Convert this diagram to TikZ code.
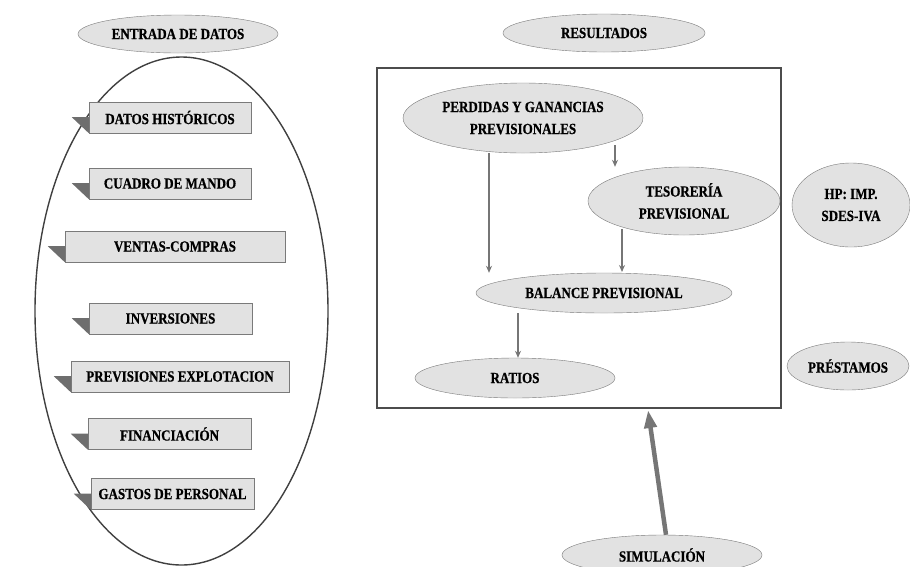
\documentclass[tikz,border=0pt]{standalone}
\usepackage{fontspec}
\setmainfont[FakeStretch=0.84, BoldFeatures={FakeBold=0.6}]{Liberation Serif}
\usetikzlibrary{shapes.geometric,arrows.meta,calc}

\definecolor{fillgray}{HTML}{E2E2E2}
\definecolor{linegray}{HTML}{7A7A7A}
\definecolor{tabgray}{HTML}{6E6E6E}
\definecolor{arrowgray}{HTML}{767676}

\tikzset{
  oval/.style={ellipse, draw=linegray, fill=fillgray, inner sep=0pt, align=center,
    font=\fontsize{15.5}{22}\selectfont\bfseries},
  databox/.style={rectangle, draw=linegray, fill=fillgray, minimum height=31pt, inner sep=0pt,
    font=\fontsize{15.5}{16}\selectfont\bfseries},
  flow/.style={->, arrowgray, line width=1.4pt, >={Stealth[length=7pt,width=6pt]}},
}

\newcommand{\datatab}[1]{\fill[tabgray] ($(#1.south west)+(-17,-16)$) -- ($(#1.south west)+(0,-16)$) -- (#1.south west) -- cycle;}

\begin{document}
\begin{tikzpicture}[x=1pt, y=-1pt]

  \useasboundingbox (0,0) rectangle (910,566);
  \clip (0,0) rectangle (910,566);

  % entrada de datos
  \node[oval, minimum width=200pt, minimum height=38pt] (entrada) at (178,34) {ENTRADA DE DATOS};
  \draw[color=black!75, line width=1.4pt] (181.5,311) ellipse (146.5 and 254);

  \node[databox, minimum width=162pt] (historicos) at (170,117.5) {DATOS HISTÓRICOS};
  \node[databox, minimum width=162pt] (cuadro) at (170,183.5) {CUADRO DE MANDO};
  \node[databox, minimum width=220pt] (ventas) at (175,246.5) {VENTAS-COMPRAS};
  \node[databox, minimum width=163pt] (inversiones) at (170.5,318.5) {INVERSIONES};
  \node[databox, minimum width=218pt] (explotacion) at (180,376.5) {PREVISIONES EXPLOTACION};
  \node[databox, minimum width=163pt] (financiacion) at (169.5,434) {FINANCIACIÓN};
  \node[databox, minimum width=163pt] (personal) at (172.5,494) {GASTOS DE PERSONAL};
  \foreach \b in {historicos,cuadro,ventas,inversiones,explotacion,financiacion,personal}
    {\datatab{\b}}

  % resultados
  \node[oval, minimum width=202pt, minimum height=38pt] (resultados) at (604,33) {RESULTADOS};
  \draw[color=black!70, line width=2pt] (377,68) rectangle (781,408);

  \node[oval, minimum width=240pt, minimum height=70pt] (pyg) at (523,118) {PERDIDAS Y GANANCIAS\\PREVISIONALES};
  \node[oval, minimum width=192pt, minimum height=68pt] (tesoreria) at (684,201) {TESORERÍA\\PREVISIONAL};
  \node[oval, minimum width=256pt, minimum height=40pt] (balance) at (604,293) {BALANCE PREVISIONAL};
  \node[oval, minimum width=200pt, minimum height=40pt] (ratios) at (515,378) {RATIOS};

  \node[oval, minimum width=118pt, minimum height=84pt] (hp) at (851,205) {HP: IMP.\\SDES-IVA};
  \node[oval, minimum width=122pt, minimum height=48pt] (prestamos) at (848,366) {PRÉSTAMOS};
  \node[oval, minimum width=200pt, minimum height=40pt] (simulacion) at (662,555) {SIMULACIÓN};

  \coordinate (colA) at (489,0);
  \coordinate (colB) at (615,0);
  \coordinate (colC) at (622,0);
  \coordinate (colD) at (518,0);
  \coordinate (colE) at (666,0);
  \coordinate (pygB) at (615,145);
  \coordinate (balT) at (622,272);
  \coordinate (caja) at (648,410);

  \draw[flow] (pyg.south -| colA) -- (balance.north -| colA);
  \draw[flow] (pygB) -- (tesoreria.north -| colB);
  \draw[flow] (tesoreria.south -| colC) ++(0,-6) -- (balT);
  \draw[flow] (balance.south -| colD) -- (ratios.north -| colD);
  \draw[->, arrowgray, line width=4.5pt, >={Triangle[length=18pt,width=12pt]}] (simulacion.north -| colE) -- (caja);

\end{tikzpicture}
\end{document}
